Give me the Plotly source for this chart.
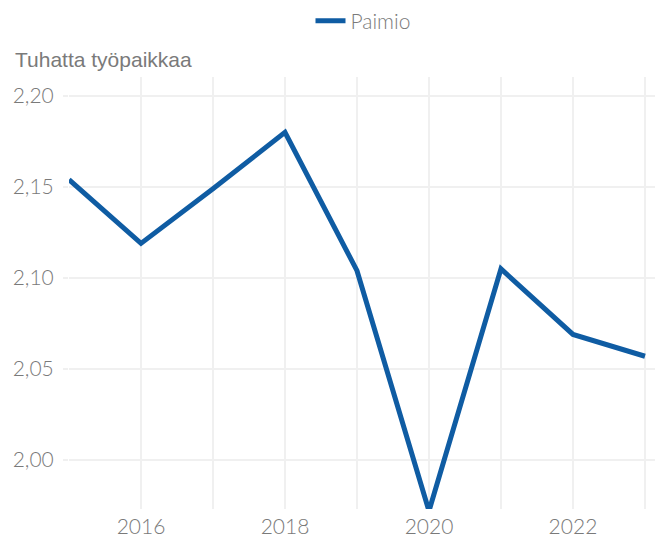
import plotly.graph_objects as go

years = [2015, 2016, 2017, 2018, 2019, 2020, 2021, 2022, 2023]
paimio = [2.154, 2.119, 2.149, 2.180, 2.104, 1.972, 2.105, 2.069, 2.057]
series_name = "Paimio"
y_title = "Tuhatta työpaikkaa"

grid = "#f0f0f0"
tick_font = dict(family="Lato", size=21, color="#7a7a7a", weight=300)

fig = go.Figure()
fig.add_trace(go.Scatter(x=years, y=paimio, mode="lines", name=series_name,
                         line=dict(color="#0f5ca3", width=5)))

fig.update_layout(
    width=655, height=529,
    margin=dict(l=61, r=6, t=69, b=28),
    plot_bgcolor="white", paper_bgcolor="white",
    separators=", ",
    showlegend=True,
    legend=dict(orientation="h", x=0.5, xanchor="center", y=1 - 13 / 529, yanchor="middle",
                yref="container", font=dict(family="Lato", size=21, color="#7a7a7a", weight=300)),
    xaxis=dict(range=[2015, 2023.167], tick0=2016, dtick=2, showgrid=True,
               gridcolor=grid, gridwidth=1.5, zeroline=False, showline=False,
               tickfont=tick_font, ticks="", ticklabelstandoff=3, automargin=False,
               minor=dict(dtick=1, tick0=2015, showgrid=True, gridcolor=grid, gridwidth=1.5)),
    yaxis=dict(range=[1.9731, 2.2104], dtick=0.05, tick0=2.0, tickformat=".2f",
               showgrid=True, gridcolor=grid, gridwidth=2, zeroline=False, showline=False,
               ticks="outside", ticklen=5, tickcolor=grid, tickwidth=2, automargin=False,
               ticklabelstandoff=5, tickfont=tick_font),
    annotations=[dict(text=y_title, xref="paper", yref="paper", x=-0.0952, y=1.04,
                      xanchor="left", yanchor="middle", showarrow=False,
                      font=dict(family="Liberation Sans", size=21, color="#7a7a7a"))],
)

fig.write_html("out.html")
